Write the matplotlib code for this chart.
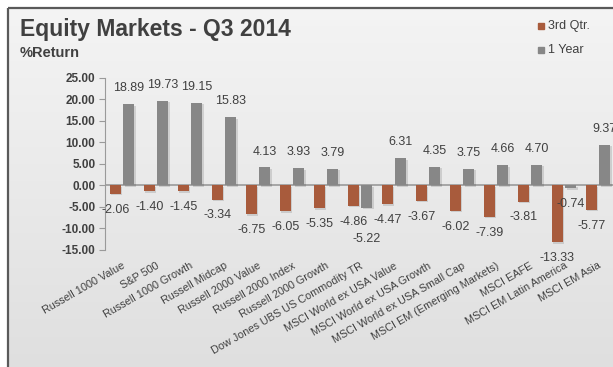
import numpy as np
import matplotlib
matplotlib.use("Agg")
import matplotlib.pyplot as plt
from matplotlib.patches import Rectangle
from matplotlib.colors import LinearSegmentedColormap
import matplotlib.patheffects as pe

categories = ["Russell 1000 Value", "S&P 500", "Russell 1000 Growth", "Russell Midcap",
              "Russell 2000 Value", "Russell 2000 Index", "Russell 2000 Growth",
              "Dow Jones UBS US Commodity TR", "MSCI World ex USA Value",
              "MSCI World ex USA Growth", "MSCI World ex USA Small Cap",
              "MSCI EM (Emerging Markets)", "MSCI EAFE", "MSCI EM Latin America",
              "MSCI EM Asia"]
q3 = [-2.06, -1.40, -1.45, -3.34, -6.75, -6.05, -5.35, -4.86, -4.47, -3.67,
      -6.02, -7.39, -3.81, -13.33, -5.77]
one_year = [18.89, 19.73, 19.15, 15.83, 4.13, 3.93, 3.79, -5.22, 6.31, 4.35,
            3.75, 4.66, 4.70, -0.74, 9.37]
yticks = [25, 20, 15, 10, 5, 0, -5, -10, -15]

ORANGE = "#A85B3C"
GRAY = "#878787"
TXT = "#404040"
FONT = ["Liberation Sans Narrow", "Liberation Sans", "DejaVu Sans"]
plt.rcParams["font.family"] = FONT

W, H = 613, 367
fig = plt.figure(figsize=(W / 100, H / 100), dpi=100)
fig.patch.set_facecolor("white")

# background panel with gradient
bg = fig.add_axes([0, 0, 1, 1], zorder=-10)
bg.axis("off")
grad = np.linspace(0, 1, 256).reshape(-1, 1)
cmap = LinearSegmentedColormap.from_list("g", ["#f4f4f4", "#dfdfdf"])
bg.imshow(grad, cmap=cmap, extent=[8, W + 5, H + 5, 8], aspect="auto")
bg.plot([8, 8], [H + 5, 8], color="#5a5a5a", lw=1.6, solid_capstyle="butt")
bg.plot([8, W + 5], [8, 8], color="#5a5a5a", lw=1.6, solid_capstyle="butt")
bg.set_xlim(0, W); bg.set_ylim(H, 0)

bg.text(20, 36, "Equity Markets - Q3 2014", fontsize=16.5, fontweight="bold", color=TXT, va="baseline")
bg.text(20, 57, "%Return", fontsize=10.5, fontweight="bold", color=TXT, va="baseline")
bg.add_patch(Rectangle((538, 23), 6, 6, color=ORANGE))
bg.text(548, 26, "3rd Qtr.", fontsize=9, color=TXT, va="center")
bg.add_patch(Rectangle((538, 47), 6, 6, color=GRAY))
bg.text(548, 50, "1 Year", fontsize=9, color=TXT, va="center")

# main axes
left, right_px, top_px, bot_px = 105, 615, 78, 249.5
ax = fig.add_axes([left / W, 1 - bot_px / H, (right_px - left) / W, (bot_px - top_px) / H])
ax.patch.set_alpha(0)
x = np.arange(len(categories))
bw = 0.32
shadow = [pe.SimplePatchShadow(offset=(1.0, -1.0), alpha=0.12, shadow_rgbFace="black"), pe.Normal()]
b1 = ax.bar(x - 0.2, q3, bw, color=ORANGE, zorder=3)
b2 = ax.bar(x + 0.2, one_year, bw, color=GRAY, zorder=3)
for r in list(b1) + list(b2):
    r.set_path_effects(shadow)
ax.set_xlim(-0.5, len(categories) - 0.5)
ax.set_ylim(-15, 25)
ax.set_yticks(yticks)
ax.set_yticklabels([f"{v:.2f}" for v in yticks], fontsize=8.5, color=TXT, fontweight="bold")
ax.axhline(0, color="#9a9a9a", lw=1.2, zorder=2)
for s in ["top", "right", "bottom"]:
    ax.spines[s].set_visible(False)
ax.spines["left"].set_color("#9a9a9a")
ax.tick_params(axis="y", length=4, color="#9a9a9a", pad=3)
ax.tick_params(axis="x", length=0, pad=8)
ax.set_xticks(x)
ax.set_xticklabels(categories, rotation=30, ha="right", rotation_mode="anchor",
                   fontsize=7.8, color=TXT)

for i in range(len(categories)):
    for bars, vals, other in ((b1, q3, one_year), (b2, one_year, q3)):
        r = bars[i]
        v = vals[i]
        cx = r.get_x() + r.get_width() / 2
        off = 11.5 if v >= 0 else -11.5
        if v < 0 and other[i] < 0 and v < other[i] and abs(v - other[i]) < 2:
            off -= 11
        ax.annotate(f"{v:.2f}", (cx, v), xytext=(0, off), textcoords="offset points",
                    ha="center", va="center", fontsize=9, color=TXT, clip_on=False, zorder=5)

fig.savefig("out.png", dpi=100)
